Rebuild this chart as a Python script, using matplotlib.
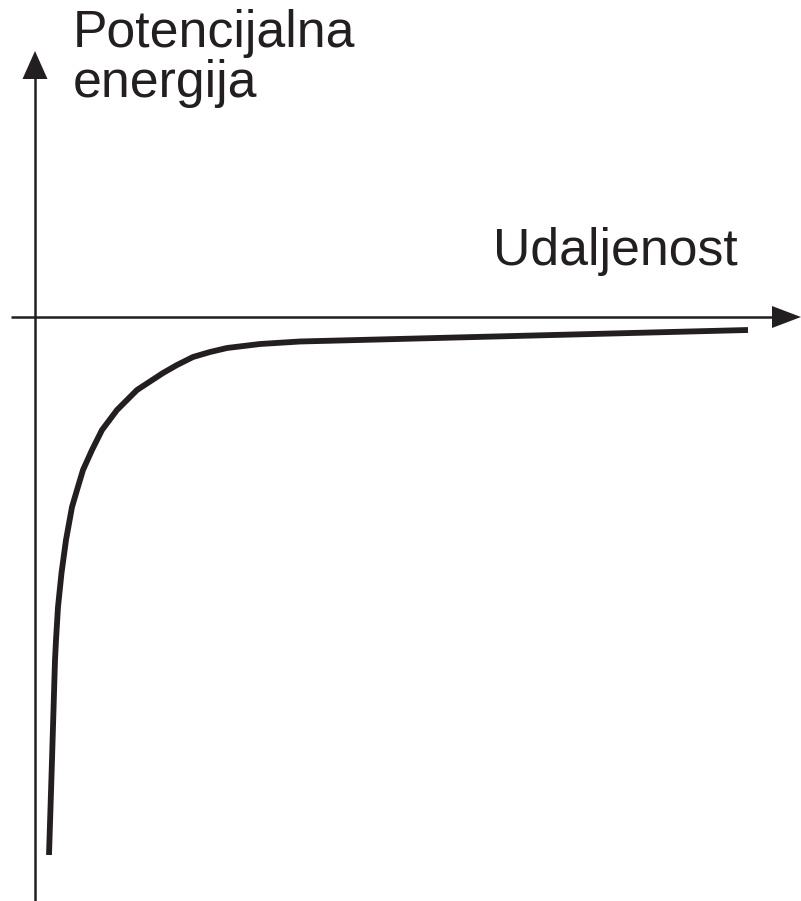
import matplotlib
matplotlib.use("Agg")
import matplotlib.pyplot as plt
from matplotlib.patches import Polygon

# Curve data (distance, potential energy) in arbitrary units
distance = [0.14, 0.155, 0.17, 0.185, 0.20, 0.21, 0.23, 0.265, 0.31, 0.37,
            0.42, 0.48, 0.57, 0.67, 0.82, 1.02, 1.28, 1.42, 1.58, 1.75,
            1.92, 2.25, 2.65, 7.13]
energy = [-5.38, -4.91, -4.43, -3.93, -3.43, -3.23, -2.90, -2.56, -2.23, -1.90,
          -1.73, -1.53, -1.33, -1.13, -0.93, -0.73, -0.56, -0.48, -0.40, -0.35,
          -0.31, -0.27, -0.245, -0.13]

y_label_lines = ["Potencijalna", "energija"]
x_label = "Udaljenost"

col = "#231f20"
fig = plt.figure(figsize=(8.01, 9.01), dpi=100)
ax = fig.add_axes([0, 0, 1, 1])
ax.set_xlim(-0.35, 7.66)
ax.set_ylim(-5.84, 3.17)
ax.axis("off")

# axes lines
ax.plot([0, 0], [-5.84, 2.40], color=col, lw=1.8, solid_capstyle="butt")
ax.plot([-0.24, 7.40], [0, 0], color=col, lw=1.8, solid_capstyle="butt")
ax.add_patch(Polygon([[-0.125, 2.38], [0.125, 2.38], [0, 2.66]], closed=True,
                     facecolor=col, edgecolor="none"))
ax.add_patch(Polygon([[7.37, 0.11], [7.37, -0.11], [7.66, 0]], closed=True,
                     facecolor=col, edgecolor="none"))

# curve
ax.plot(distance, energy, color=col, lw=4.2, solid_capstyle="butt",
        solid_joinstyle="round")

fs = 37.3
ax.text(0.38, 2.70, y_label_lines[0], fontsize=fs, family="Liberation Sans",
        color=col, va="baseline", ha="left")
ax.text(0.38, 2.20, y_label_lines[1], fontsize=fs, family="Liberation Sans",
        color=col, va="baseline", ha="left")
ax.text(4.58, 0.52, x_label, fontsize=fs, family="Liberation Sans",
        color=col, va="baseline", ha="left")

fig.savefig("out.png", dpi=100)
